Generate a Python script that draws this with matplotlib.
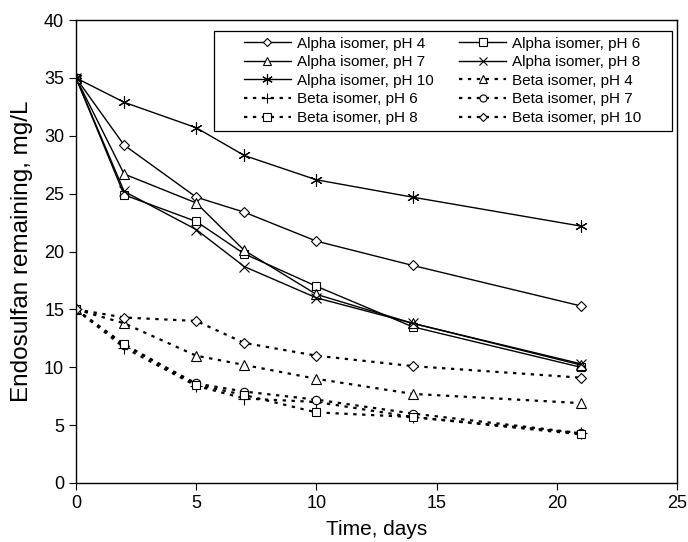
import numpy as np
import matplotlib.pyplot as plt
from matplotlib.patches import Rectangle

plt.rcParams['font.family'] = ['Liberation Sans', 'DejaVu Sans']

# Sampling times (days)
days = [0, 2, 5, 7, 10, 14, 21]

# Endosulfan remaining, mg/L
alpha_ph4 = [35, 29.2, 24.7, 23.4, 20.9, 18.8, 15.3]
alpha_ph6 = [35, 24.9, 22.6, 19.8, 17.0, 13.5, 10.0]
alpha_ph7 = [35, 26.7, 24.2, 20.1, 16.3, 13.8, 10.2]
alpha_ph8 = [35, 25.2, 21.9, 18.7, 16.0, 13.8, 10.3]
alpha_ph10 = [35, 32.9, 30.7, 28.3, 26.2, 24.7, 22.2]
beta_ph4 = [15, 13.8, 11.0, 10.2, 9.0, 7.7, 6.9]
beta_ph6 = [15, 11.7, 8.4, 7.3, 7.0, 5.7, 4.3]
beta_ph7 = [15, 11.9, 8.6, 7.9, 7.2, 6.0, 4.3]
beta_ph8 = [15, 12.0, 8.5, 7.6, 6.1, 5.7, 4.2]
beta_ph10 = [15, 14.3, 14.0, 12.1, 11.0, 10.1, 9.1]

series = [
    (alpha_ph4, 'Alpha isomer, pH 4', '-', 'D', 5),
    (alpha_ph6, 'Alpha isomer, pH 6', '-', 's', 6),
    (alpha_ph7, 'Alpha isomer, pH 7', '-', '^', 7),
    (alpha_ph8, 'Alpha isomer, pH 8', '-', 'x', 7),
    (alpha_ph10, 'Alpha isomer, pH 10', '-', (6, 2, 0), 9),
    (beta_ph4, 'Beta isomer, pH 4', 'dot', '^', 7),
    (beta_ph6, 'Beta isomer, pH 6', 'dot', '+', 9),
    (beta_ph7, 'Beta isomer, pH 7', 'dot', 'o', 6),
    (beta_ph8, 'Beta isomer, pH 8', 'dot', 's', 6),
    (beta_ph10, 'Beta isomer, pH 10', 'dot', 'D', 5),
]

fig = plt.figure(figsize=(6.88, 5.42), dpi=100)
ax = fig.add_axes([0.1105, 0.1089, 0.8735, 0.854])

handles = []
for vals, label, ls, mk, ms in series:
    style = (0, (1.5, 2.5)) if ls == 'dot' else '-'
    lw = 1.6 if ls == 'dot' else 1.0
    h, = ax.plot(days, vals, linestyle=style, color='black', linewidth=lw,
                 marker=mk, markersize=ms, markerfacecolor='white',
                 markeredgecolor='black', markeredgewidth=0.8, label=label)
    handles.append(h)

ax.set_xlim(0, 25)
ax.set_ylim(0, 40)
ax.set_xticks(range(0, 26, 5))
ax.set_yticks(range(0, 41, 5))
ax.tick_params(direction='out', length=5, labelsize=13, top=False, right=False)
for sp in ax.spines.values():
    sp.set_linewidth(1.0)

ax.set_xlabel('Time, days', fontsize=15, labelpad=6)
ax.set_ylabel('Endosulfan remaining, mg/L', fontsize=17.5, labelpad=8)

# legend is filled row by row in the original
order = [0, 2, 4, 6, 8, 1, 3, 5, 7, 9]
leg = ax.legend([handles[i] for i in order], [series[i][1] for i in order],
                ncol=2, loc='upper right', bbox_to_anchor=(0.954, 0.981),
                fontsize=11, frameon=False, markerscale=0.85,
                handlelength=3.1, handletextpad=0.4, columnspacing=1.65,
                labelspacing=0.3, borderpad=0.0)

# wide box around the legend (more padding at the sides than top/bottom)
fig.canvas.draw()
bb = leg.get_window_extent().transformed(fig.transFigure.inverted())
padx, pady = 30 / 688, 6 / 542
box = Rectangle((bb.x0 - padx, bb.y0 - pady), bb.width + 2 * padx, bb.height + 2 * pady,
                transform=fig.transFigure, fill=True, facecolor='white',
                edgecolor='black', linewidth=0.9, zorder=4)
fig.add_artist(box)
leg.set_zorder(5)
leg.remove()
fig.add_artist(leg)

plt.savefig('out.png', dpi=100, facecolor='white')
